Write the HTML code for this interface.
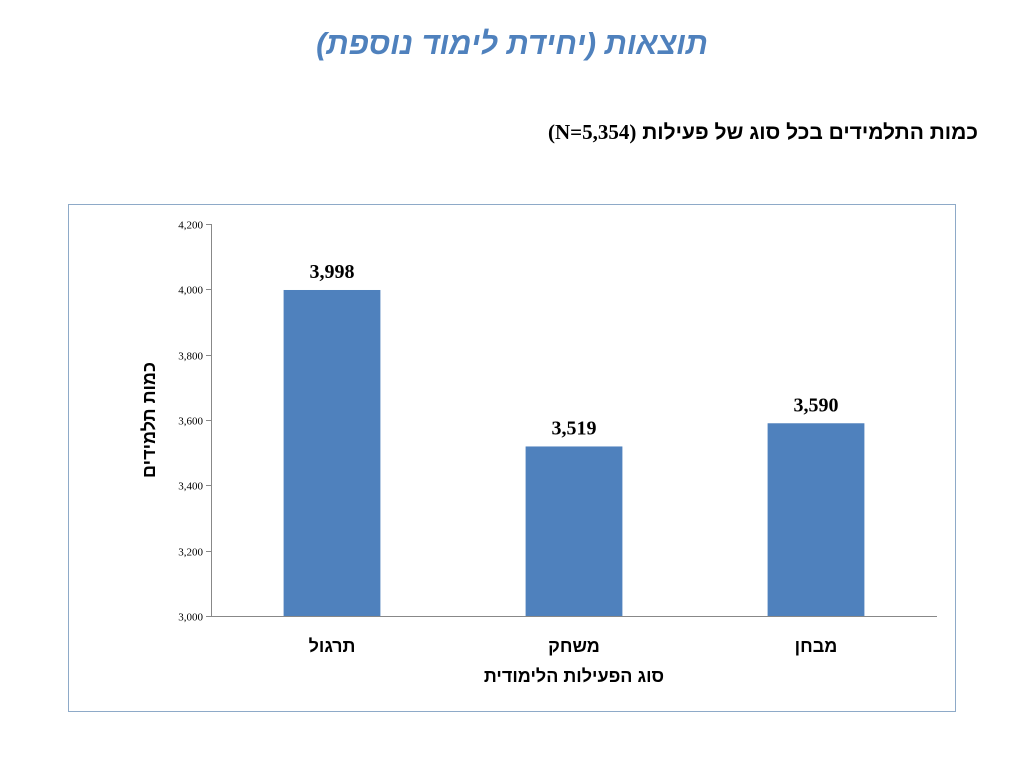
<!DOCTYPE html>
<html><head><meta charset="utf-8">
<style>
body{margin:0;width:1024px;height:768px;background:#fff;position:relative;overflow:hidden;font-family:"Liberation Sans","DejaVu Sans",sans-serif;}
.title{position:absolute;top:26px;left:0;width:1024px;text-align:center;color:#4f81bd;font-size:31px;font-weight:bold;font-style:italic;direction:rtl;}
.sub{position:absolute;top:120px;right:46px;font-size:21px;font-weight:bold;direction:rtl;white-space:nowrap;}
.sub span{font-family:"Liberation Serif",serif;}
</style></head><body>
<div class="title">תוצאות (יחידת לימוד נוספת)</div>
<div class="sub">כמות התלמידים בכל סוג של פעילות <span>(N=5,354)</span></div>
<svg id="chart" width="1024" height="768" style="position:absolute;left:0;top:0">
<rect x="68.5" y="204.5" width="887" height="507" fill="none" stroke="#8eaac8" stroke-width="1"/>
</svg>
<script>
const categories=["תרגול","משחק","מבחן"];
const values=[3998,3519,3590];
const valueLabels=["3,998","3,519","3,590"];
const ticks=[3000,3200,3400,3600,3800,4000,4200];
const tickLabels=["3,000","3,200","3,400","3,600","3,800","4,000","4,200"];
const svg=document.getElementById('chart');
const NS='http://www.w3.org/2000/svg';
const x0=211,x1=937,yTop=224,yBot=616,vmin=3000,vmax=4200;
const y=v=>yBot-(v-vmin)/(vmax-vmin)*(yBot-yTop);
const bw=(x1-x0)/categories.length;
const cx=i=>x0+bw*(i+0.5);
function mk(t,a,txt){const e=document.createElementNS(NS,t);for(const k in a)e.setAttribute(k,a[k]);if(txt!==undefined)e.textContent=txt;svg.appendChild(e);return e;}
let e=mk('line',{x1:x0+0.5,y1:yTop,x2:x0+0.5,y2:yBot,stroke:'#888'});


e=mk('line',{x1:x0,y1:yBot+0.5,x2:x1,y2:yBot+0.5,stroke:'#888'});


ticks.forEach((t,i)=>{
 const ty=Math.round(y(t))+0.5;
 mk('line',{x1:x0-5,y1:ty,x2:x0,y2:ty,stroke:'#888'});
 e=mk('text',{x:x0-8,y:ty+4,'text-anchor':'end','font-family':'Liberation Serif,serif','font-size':11},tickLabels[i]);
 
 
});
categories.forEach((c,i)=>{
 const w=bw*0.4;
 e=mk('rect',{x:cx(i)-w/2,y:y(values[i]),width:w,height:yBot-y(values[i]),fill:'#4f81bd'});
 
 
 e=mk('text',{x:cx(i),y:y(values[i])-12,'text-anchor':'middle','font-family':'Liberation Serif,serif','font-size':20,'font-weight':'bold'},valueLabels[i]);
 
 
 e=mk('text',{x:cx(i),y:652,'text-anchor':'middle','font-size':18,'font-weight':'bold',direction:'rtl'},c);
 
 
});
e=mk('text',{x:(x0+x1)/2,y:682,'text-anchor':'middle','font-size':18,'font-weight':'bold',direction:'rtl'},'סוג הפעילות הלימודית');


e=mk('text',{x:0,y:0,'text-anchor':'middle','font-size':18,'font-weight':'bold',direction:'rtl',transform:'translate(155,420) rotate(-90)'},'כמות תלמידים');


</script>
</body></html>
